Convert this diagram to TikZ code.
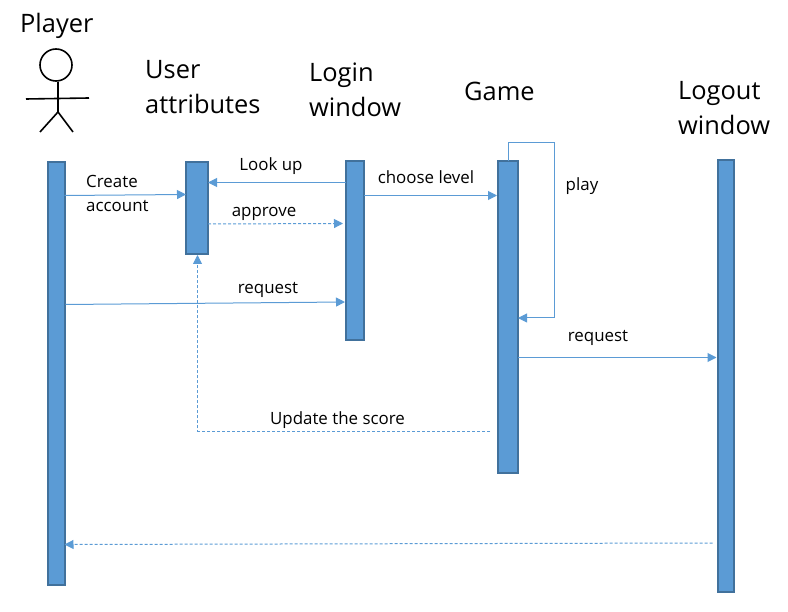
\documentclass[tikz,border=0pt]{standalone}
\usepackage{fontspec}
\setmainfont{Open Sans}
\usetikzlibrary{arrows.meta}
\definecolor{barfill}{HTML}{5B9BD5}
\definecolor{barline}{HTML}{41719C}
\tikzset{
  bar/.style={draw=barline,fill=barfill,line width=2pt,inner sep=0pt,outer sep=0pt,anchor=north west},
  head/.style={font=\fontsize{25.4}{35}\selectfont,text=black,align=left,inner sep=0pt,anchor=north west},
  lab/.style={font=\fontsize{16.9}{24}\selectfont,text=black,align=left,inner sep=0pt},
  msg/.style={draw=barfill,line width=1pt,-{Triangle[length=9pt,width=9pt]}},
  ret/.style={msg,dash pattern=on 3pt off 2pt},
  stick/.style={draw=black,line width=1.6pt},
}
\begin{document}
\begin{tikzpicture}[x=1pt,y=-1pt]
\useasboundingbox (0,0) rectangle (788,612);
% bars
\node[bar,minimum width=17pt,minimum height=423pt] (pl) at (47.5,162) {};
\node[bar,minimum width=22pt,minimum height=92pt] (ua) at (186,162) {};
\node[bar,minimum width=18pt,minimum height=179pt] (lw) at (346,161) {};
\node[bar,minimum width=20pt,minimum height=312pt] (gm) at (498,161) {};
\node[bar,minimum width=16.5pt,minimum height=432pt] (lo) at (717.5,160) {};
% headings
\node[head] (t1) at (20,13) {Player};
\node[head] (t2) at (145,60.5) {User\\attributes};
\node[head] (t3) at (309,62.5) {Login\\window};
\node[head] (t4) at (464,81.5) {Game};
\node[head] (t5) at (678,81.5) {Logout\\window};
% stick figure
\node[circle,draw=black,line width=1.6pt,minimum size=32pt,inner sep=0pt] (hd) at (56,65) {};
\coordinate (hip) at (58,112);
\draw[stick] (hd.south -| hip) -- (hip);
\coordinate (armL) at (26,99);
\coordinate (armR) at (89,98);
\coordinate (legL) at (40,132);
\coordinate (legR) at (73,132);
\draw[stick] (armL) -- (armR);
\draw[stick] (legL) -- (hip) -- (legR);
% messages
\draw[msg] ([yshift=-33.5pt]pl.north east) -- ([yshift=-32.5pt]ua.north west);
\draw[msg] ([yshift=-21.5pt]lw.north west) -- ([yshift=-20.5pt]ua.north east);
\draw[ret] ([yshift=-62pt]ua.north east) -- ([yshift=-62.5pt,xshift=-3pt]lw.north west);
\draw[msg] ([yshift=-142.5pt,xshift=1pt]pl.north east) -- ([yshift=-141pt,xshift=-1pt]lw.north west);
\draw[msg] ([yshift=-34.5pt]lw.north east) -- ([yshift=-34.5pt,xshift=-1pt]gm.north west);
\draw[msg] ([xshift=10pt]gm.north west) -- ++(0,-18) -- ++(46,0) |- ([yshift=-157pt]gm.north east);
\draw[msg] ([yshift=-196.5pt]gm.north east) -- ([yshift=-197.5pt,xshift=-1pt]lo.north west);
\draw[ret,line width=.8pt] ([yshift=-270pt,xshift=-8pt]gm.north west) -| ([xshift=11.5pt,yshift=-1pt]ua.south west);
\draw[ret] ([yshift=-383pt,xshift=-5pt]lo.north west) -- ([yshift=-382.5pt]pl.north east);
% labels
\node[lab,anchor=north west] (m1) at (86,175.5) {Create\\account};
\node[lab] (m2) at (271,166.5) {Look up};
\node[lab] (m3) at (264,213.5) {approve};
\node[lab] (m4) at (268,289.5) {request};
\node[lab] (m5) at (426,177) {choose level};
\node[lab] (m6) at (582,186) {play};
\node[lab] (m7) at (598,337.5) {request};
\node[lab] (m8) at (337.5,420.5) {Update the score};
\end{tikzpicture}
\end{document}
